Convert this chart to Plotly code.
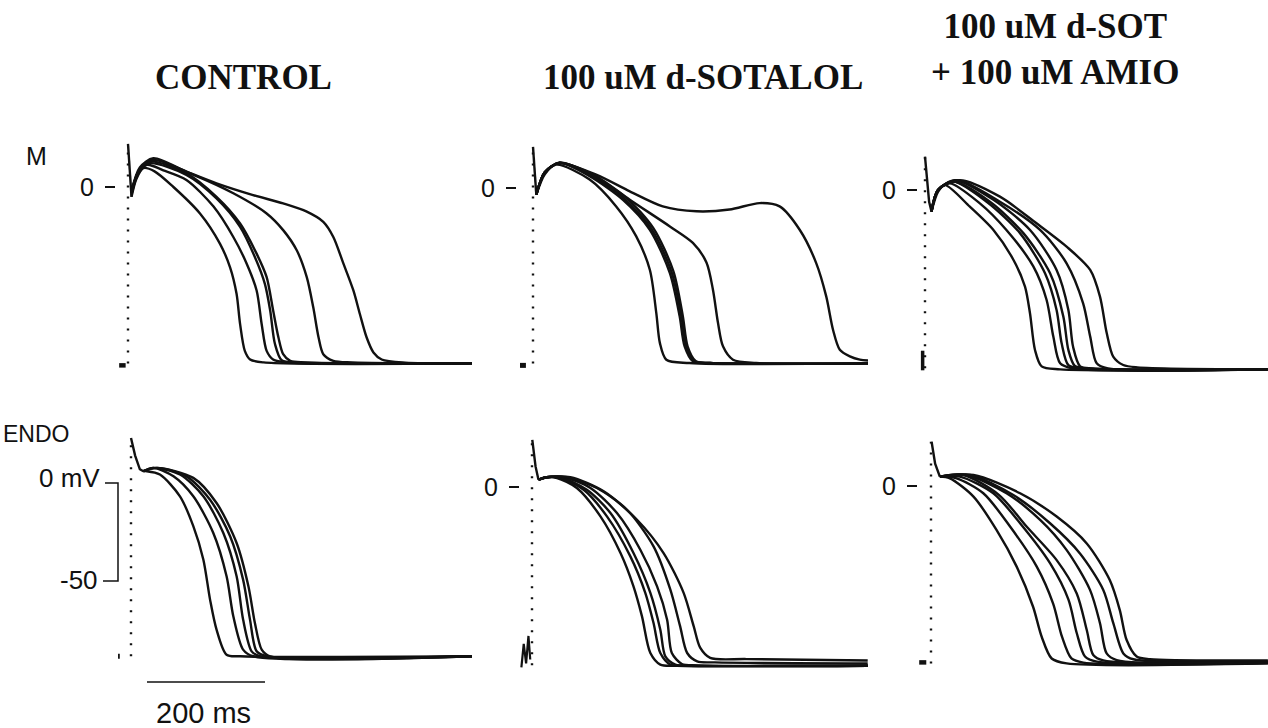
import plotly.graph_objects as go

# ---------------- DATA (time in ms after stimulus, potential in mV) ----------------
PANEL_TITLES = ["CONTROL", "100 uM d-SOTALOL", "100 uM d-SOT<br>+ 100 uM AMIO"]
ROW_LABELS = ["M", "ENDO"]

# resting potential and upstroke peak for each panel
REST_MV = [-90.0, -89.5, -91.0, -88.4, -91.0, -90.5]
PEAK_MV = [22.0, 21.0, 17.0, 23.0, 24.0, 22.6]

# phase-1 spike (common to all traces of a panel): (ms, mV)
SPIKE_M_CTRL = [(0, 22), (3, 6), (6, -5)]
SPIKE_M_SOT = [(0, 21), (2.5, 8), (5.6, -3.4)]
SPIKE_M_AMIO = [(0, 17), (4, 2), (7, -6), (11, -11)]
SPIKE_E_CTRL = [(0, 23), (7, 14), (15, 7), (21, 6)]
SPIKE_E_SOT = [(0.5, 24), (6, 10.5), (11, 3.7)]
SPIKE_E_AMIO = [(1, 22.6), (7, 11.4), (15, 4.8)]

# pre-stimulus baseline fragments
PRE_M_CTRL = [(-15, -91), (-4, -91)]
PRE_M_SOT = [(-22, -90.5), (-12, -90.5)]
PRE_M_AMIO = [(-4, -82), (-4, -92)]
PRE_E_CTRL = [(-22, -88.4), (-19, -88.4)]
PRE_E_SOT = [(-18, -92), (-14, -80), (-10, -90), (-6, -76), (-3, -88)]
PRE_E_AMIO = [(-20, -90), (-8, -90)]

# action potentials (several cycle lengths) per panel
M_CTRL = [
    [(6, -5), (14, 4), (26, 9.6), (45, 8), (77, 0), (122, -13.5), (156, -29), (173, -41), (184, -54.5),
     (190, -70), (198, -83.6), (207, -88), (230, -89.5), (583, -90)],
    [(6, -4), (16, 6), (32, 11.3), (60, 8.5), (99, 3.6), (145, -10), (178.5, -25.5), (201, -39), (218, -52.8),
     (226.6, -70), (235, -83.6), (246, -88), (270, -89.5), (583, -90)],
    [(6, -3), (18, 8), (37, 12.1), (99, 6.2), (150, -5.8), (190, -20.3), (215, -35.7), (232, -49.4), (241, -63),
     (249, -80), (260.5, -88.4), (290, -89.5), (583, -90)],
    [(6, -3), (18, 8), (37, 13), (99, 7), (150, -5), (190, -18.6), (218, -34), (235, -46), (246, -63),
     (255, -76.8), (263, -85.3), (275, -88.7), (300, -89.5), (583, -90)],
    [(6, -2), (20, 9), (43, 13.8), (111, 6.2), (178.5, -3.2), (235, -13.5), (263, -22), (286, -32.3), (303, -46),
     (314, -61.4), (323, -76.8), (331, -85.3), (348, -88.7), (380, -89.5), (583, -90)],
    [(6, -2), (20, 10), (43, 14.7), (99, 7.9), (150, 1.9), (212, -4.1), (263, -8.4), (303, -12.6), (331, -17.8),
     (348, -25.5), (365, -39), (382, -52.8), (393, -64.8), (404.5, -76.8), (416, -84.4), (430, -88),
     (470, -89.6), (583, -90)],
]
M_SOT = [
    [(5.6, -3.4), (20, 7), (39.5, 11.9), (96, 4.3), (141, -9.4), (175, -24.7), (198, -41.7), (209, -63.8),
     (215, -79), (226, -87.6), (265, -89.3), (568, -89.5)],
    [(5.6, -3.4), (20, 8), (45, 12.8), (96, 6), (152.5, -6), (198, -21.3), (232, -43.4), (248.6, -65.5),
     (257, -80.8), (271, -88.4), (300, -89.3), (568, -89.5)],
    [(5.6, -3.4), (20, 8), (45, 12.8), (98, 6.3), (155, -5.5), (201, -21), (235, -43), (251.5, -65.5),
     (260, -80.8), (274, -88.4), (300, -89.3), (568, -89.5)],
    [(5.6, -3.4), (20, 8), (45, 13), (100, 6.5), (158, -5), (204, -20.5), (238, -42.5), (254, -65.5),
     (262, -80.8), (276, -88.4), (300, -89.3), (568, -89.5)],
    [(5.6, -3.4), (20, 8), (45, 12.8), (107, 6), (164, -6), (232, -19.6), (271, -28), (294, -38), (305, -51.9),
     (313.6, -68.9), (322, -80.8), (339, -87.6), (378, -89.3), (568, -89.5)],
    [(5.6, -3.4), (20, 8), (45, 12.8), (107, 6.8), (164, -1.7), (220, -9.4), (277, -11.9), (333, -11),
     (384, -7.7), (418, -9.4), (452, -21.3), (480, -38.3), (497, -55.3), (508.5, -72.3), (520, -82.5),
     (537, -85.9), (554, -87.6), (568, -88)],
]
M_AMIO = [
    [(11, -11), (22, -1), (34, 2.5), (76, -8.5), (116, -20.4), (150, -35.7), (169.5, -49.3), (178, -63),
     (186.4, -81.6), (197.7, -90), (229, -91.5), (581, -91.5)],
    [(11, -11), (22, 0), (42, 3.4), (93, -6.8), (138, -20.4), (183.6, -39), (206, -56), (217.5, -74.8),
     (229, -88.4), (250, -91), (581, -91.5)],
    [(11, -11), (22, 0), (48, 4.3), (104.5, -6), (161, -22), (203.4, -42.5), (223, -61.2), (231.6, -78.2),
     (243, -89.3), (265, -91), (581, -91.5)],
    [(11, -11), (22, 0), (48, 4.3), (110, -6), (166.7, -22), (212, -42.5), (234.5, -64.6), (243, -81.6),
     (254, -89.8), (275, -91), (581, -91.5)],
    [(11, -11), (22, 0), (51, 5), (116, -5), (178, -20.4), (223, -40.8), (243, -61.2), (251, -80),
     (263, -90), (285, -91), (581, -91.5)],
    [(11, -11), (22, 0), (54, 5), (127, -6), (195, -20.4), (240, -37.4), (268, -57.8), (280, -74.8),
     (291, -88.4), (310, -91), (581, -91.5)],
    [(11, -11), (22, 0), (59, 5), (127, -3.4), (189, -17), (240, -28.9), (280, -40.8), (296.6, -54.4),
     (308, -73), (319, -85), (336, -89.3), (360, -90.5), (581, -91.5)],
]
E_CTRL = [
    [(21, 6), (27, 6), (49, 4.3), (83, -6.8), (105.6, -22), (122.6, -39), (134, -59.5), (145, -74.8),
     (162, -87.6), (185, -88.4), (578, -88.4)],
    [(21, 6), (38, 7.7), (72, 3.4), (105.6, -6.8), (139.5, -25.5), (162, -47.6), (173.4, -68), (190, -85),
     (207, -88.4), (578, -88.4)],
    [(21, 6), (38, 7.7), (83, 4.3), (122.6, -6.8), (156.5, -25.5), (179, -47.6), (190, -69.7), (204.5, -85.9),
     (218.6, -88.4), (578, -88.4)],
    [(21, 6), (44, 7.7), (94, 3.4), (134, -8.5), (168, -27.2), (190, -49.3), (201.7, -69.7), (213, -85.9),
     (230, -88.4), (578, -88.4)],
    [(21, 6), (44, 7.7), (105.6, 2.6), (145, -10.2), (179, -30.6), (199, -52.7), (210, -71.4), (221.5, -85),
     (235.6, -88.4), (578, -88.4)],
]
E_SOT = [
    [(11, 3.7), (25, 5), (42.4, 4.6), (76, -0.5), (116, -15), (150, -33.7), (172, -50.7), (186.4, -66),
     (200.6, -84.7), (217.5, -90.6), (246, -91.2), (569, -91.2)],
    [(11, 3.7), (25, 5), (48, 4.6), (87.6, -1.4), (127, -15), (166.7, -35.4), (192, -54), (206, -69.4),
     (217.5, -84.7), (234.5, -90.6), (260, -91.2), (569, -91.2)],
    [(11, 3.7), (25, 5), (51, 4.6), (93, -1.4), (133, -13.3), (172, -33.7), (200.6, -54), (217.5, -72.8),
     (226, -86.4), (243, -90.6), (270, -91.2), (569, -91.2)],
    [(11, 3.7), (25, 5), (54, 5), (99, -0.5), (144, -13.3), (183.6, -32), (212, -50.7), (229, -67.7),
     (237, -84.7), (254, -90.3), (280, -91), (569, -91)],
    [(11, 3.7), (25, 5), (59, 5), (110, -0.5), (161, -11.6), (206, -30.3), (234.5, -52.4), (251, -71),
     (263, -84.7), (280, -89), (310, -89.5), (569, -90)],
    [(11, 3.7), (25, 5), (65, 5), (121.5, -2.2), (178, -16.7), (223, -33.7), (257, -54), (274, -71),
     (285, -82), (302, -87.2), (364, -87.8), (569, -88.5)],
]
E_AMIO = [
    [(15, 4.8), (32, 3.9), (72, -5.4), (111, -22.4), (145, -41), (173, -61.6), (187.6, -76.9), (204.5, -88),
     (230, -90.5), (571, -90.5)],
    [(15, 4.8), (43.5, 3.9), (88.7, -3.7), (134, -20.7), (179, -41), (207, -60), (222, -76.9), (238, -88),
     (258, -90.1), (571, -90.3)],
    [(15, 4.8), (49, 4.8), (105.6, -3.7), (151, -19), (202, -39.5), (233, -58), (247, -75), (261, -87),
     (281, -89.6), (571, -90.3)],
    [(15, 4.8), (55, 5.6), (115, -4.5), (162, -20.7), (213, -37.8), (247, -54.8), (264, -73.5), (275, -86.2),
     (292, -89), (571, -90)],
    [(15, 4.8), (60, 5.6), (128, -3.7), (185, -17.3), (230, -32.7), (269.5, -53), (286.4, -70), (297.7, -85.4),
     (314.7, -88.8), (571, -90)],
    [(15, 4.8), (66, 5.6), (139.5, -4.6), (201.7, -19), (252.5, -34.4), (292, -53), (309, -70), (326, -85.4),
     (343, -88.4), (571, -89.5)],
    [(15, 4.8), (72, 5.6), (151, -3.7), (213, -15.6), (264, -29.3), (303, -48), (320, -63.3), (331.6, -78.6),
     (348.6, -87), (371, -88.4), (571, -89)],
]

# calibration bars
SCALE_TIME_MS = 200
SCALE_VOLT_MV = [0, -50]
SCALE_VOLT_LABELS = ["0 mV", "-50"]
SCALE_TIME_LABEL = "200 ms"

# ---------------- LAYOUT (pixels) ----------------
W, H = 1268, 728
PX_PER_MS = 0.59
PX_PER_MV = 1.96
INK = "#111111"
SANS = "Liberation Sans, Arial, sans-serif"
SERIF = "Liberation Serif, Times New Roman, serif"

PANELS = [
    dict(traces=M_CTRL, spike=SPIKE_M_CTRL, pre=PRE_M_CTRL, prew=4.5, left=116, right=472, stim=128, zero=187, top=120, bottom=392, tick=True),
    dict(traces=M_SOT, spike=SPIKE_M_SOT, pre=PRE_M_SOT, prew=5, left=517, right=868, stim=533, zero=188, top=120, bottom=392, tick=True),
    dict(traces=M_AMIO, spike=SPIKE_M_AMIO, pre=PRE_M_AMIO, prew=3.5, left=918, right=1268, stim=925, zero=190, top=120, bottom=392, tick=True),
    dict(traces=E_CTRL, spike=SPIKE_E_CTRL, pre=PRE_E_CTRL, prew=5, left=100, right=472, stim=131, zero=483, top=415, bottom=700, tick=False),
    dict(traces=E_SOT, spike=SPIKE_E_SOT, pre=PRE_E_SOT, prew=2.2, left=520, right=868, stim=532, zero=487, top=415, bottom=700, tick=True),
    dict(traces=E_AMIO, spike=SPIKE_E_AMIO, pre=PRE_E_AMIO, prew=4.5, left=918, right=1268, stim=931, zero=486, top=415, bottom=700, tick=True),
]

fig = go.Figure()
layout_axes = {}


def ax_names(i):
    return ("x" if i == 1 else f"x{i}"), ("y" if i == 1 else f"y{i}")


for i, p in enumerate(PANELS, start=1):
    xa, ya = ax_names(i)
    xkey = "xaxis" if i == 1 else f"xaxis{i}"
    ykey = "yaxis" if i == 1 else f"yaxis{i}"
    layout_axes[xkey] = dict(
        domain=[p["left"] / W, p["right"] / W],
        range=[(p["left"] - p["stim"]) / PX_PER_MS, (p["right"] - p["stim"]) / PX_PER_MS],
        visible=False, anchor=ya, fixedrange=True,
    )
    ydict = dict(
        domain=[1 - p["bottom"] / H, 1 - p["top"] / H],
        range=[(p["zero"] - p["bottom"]) / PX_PER_MV, (p["zero"] - p["top"]) / PX_PER_MV],
        anchor=xa, showgrid=False, zeroline=False, showline=False, fixedrange=True,
    )
    if p["tick"]:
        ydict.update(tickmode="array", tickvals=[0], ticktext=["0"], ticks="outside", ticklen=10,
                     tickwidth=1.5, tickcolor=INK, tickfont=dict(family=SANS, size=25, color=INK),
                     ticklabelstandoff=6)
    else:
        ydict.update(showticklabels=False, ticks="")
    layout_axes[ykey] = ydict

    rest, peak = REST_MV[i - 1], PEAK_MV[i - 1]
    # dotted upstroke
    fig.add_trace(go.Scatter(x=[0, 0], y=[rest, peak], mode="lines", xaxis=xa, yaxis=ya,
                             line=dict(color=INK, width=2.4, dash="2px,9px"),
                             showlegend=False, hoverinfo="skip"))
    # phase-1 spike
    fig.add_trace(go.Scatter(x=[s[0] for s in p["spike"]], y=[s[1] for s in p["spike"]], mode="lines",
                             xaxis=xa, yaxis=ya, line=dict(color=INK, width=2.4),
                             showlegend=False, hoverinfo="skip"))
    # pre-stimulus fragment
    fig.add_trace(go.Scatter(x=[s[0] for s in p["pre"]], y=[s[1] for s in p["pre"]], mode="lines",
                             xaxis=xa, yaxis=ya, line=dict(color=INK, width=p["prew"]),
                             showlegend=False, hoverinfo="skip"))
    for tr in p["traces"]:
        fig.add_trace(go.Scatter(x=[q[0] for q in tr], y=[q[1] for q in tr], mode="lines",
                                 xaxis=xa, yaxis=ya,
                                 line=dict(color=INK, width=2.4, shape="spline", smoothing=0.8),
                                 showlegend=False, hoverinfo="skip"))

# calibration bracket (mV) and time bar in ENDO-control panel (axis 4)
bx = (118 - PANELS[3]["stim"]) / PX_PER_MS
btop = (105 - PANELS[3]["stim"]) / PX_PER_MS
bbot = (103 - PANELS[3]["stim"]) / PX_PER_MS
fig.add_trace(go.Scatter(x=[btop, bx, bx, bbot],
                         y=[SCALE_VOLT_MV[0], SCALE_VOLT_MV[0], SCALE_VOLT_MV[1], SCALE_VOLT_MV[1]],
                         mode="lines", xaxis="x4", yaxis="y4", line=dict(color=INK, width=1.5),
                         showlegend=False, hoverinfo="skip"))
t0 = (147 - PANELS[3]["stim"]) / PX_PER_MS
bar_y = (PANELS[3]["zero"] - 682) / PX_PER_MV
fig.add_trace(go.Scatter(x=[t0, t0 + SCALE_TIME_MS], y=[bar_y, bar_y], mode="lines", xaxis="x4", yaxis="y4",
                         line=dict(color=INK, width=1.5), showlegend=False, hoverinfo="skip"))

annotations = []
for v, lab, xs in zip(SCALE_VOLT_MV, SCALE_VOLT_LABELS, [btop, bbot]):
    annotations.append(dict(x=xs, y=v, xref="x4", yref="y4", text=lab, showarrow=False,
                            xanchor="right", yanchor="middle", xshift=-3, yshift=5 if v == 0 else 1,
                            font=dict(family=SANS, size=26, color=INK)))
annotations.append(dict(x=t0 + SCALE_TIME_MS / 2 - 4, y=1 - 713 / H, xref="x4", yref="paper",
                        text=SCALE_TIME_LABEL, showarrow=False, xanchor="center", yanchor="middle",
                        font=dict(family=SANS, size=29, color=INK)))

# column titles
for txt, cx, cy in zip(PANEL_TITLES, [243, 703, 1055], [78, 78, 50]):
    annotations.append(dict(x=cx / W, y=1 - cy / H, xref="paper", yref="paper", text=f"<b>{txt}</b>",
                            showarrow=False, xanchor="center", yanchor="middle",
                            font=dict(family=SERIF, size=35, color=INK)))
# row labels
annotations.append(dict(x=36 / W, y=1 - 156 / H, xref="paper", yref="paper", text=ROW_LABELS[0],
                        showarrow=False, xanchor="center", yanchor="middle",
                        font=dict(family=SANS, size=25, color=INK)))
annotations.append(dict(x=1 / W, y=1 - 434 / H, xref="paper", yref="paper", text=ROW_LABELS[1],
                        showarrow=False, xanchor="left", yanchor="middle",
                        font=dict(family=SANS, size=23, color=INK)))

fig.update_layout(width=W, height=H, margin=dict(l=0, r=0, t=0, b=0),
                  paper_bgcolor="white", plot_bgcolor="white", showlegend=False,
                  annotations=annotations, **layout_axes)

fig.write_html("out.html", config={"displayModeBar": False},
               post_script="document.body.style.margin='0';document.body.style.padding='0';")
